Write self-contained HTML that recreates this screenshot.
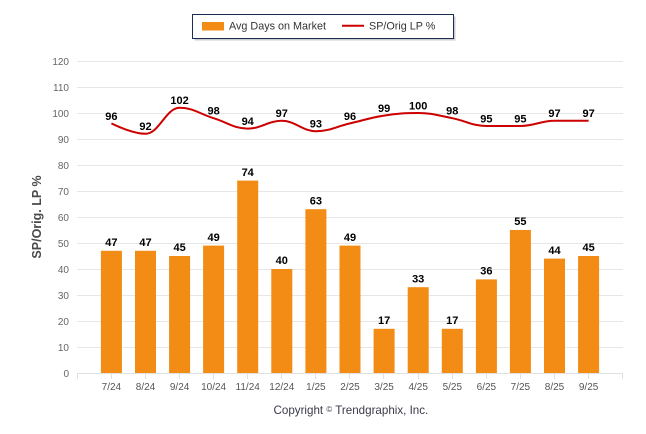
<!DOCTYPE html>
<html><head><meta charset="utf-8"><style>
html,body{margin:0;padding:0;background:#fff;}
svg{display:block;font-family:"Liberation Sans",Arial,sans-serif;}
</style></head><body>
<svg width="646" height="434" viewBox="0 0 646 434" xmlns="http://www.w3.org/2000/svg">
<rect width="646" height="434" fill="#fff"/>
<!-- legend -->
<rect x="194.5" y="16.5" width="261" height="24" fill="#999" opacity="0.5"/>
<rect x="192.5" y="14.5" width="261" height="24" fill="#fff" stroke="#1c2d52" stroke-width="1"/>
<rect x="202" y="22" width="22" height="8.5" fill="#f28c14"/>
<text x="229" y="29.5" font-size="10.8" fill="#333">Avg Days on Market</text>
<line x1="342" y1="25.8" x2="364" y2="25.8" stroke="#cc0000" stroke-width="2"/>
<text x="369" y="29.5" font-size="10.8" fill="#333">SP/Orig LP %</text>
<!-- grid -->
<g stroke="#e6e6e6" stroke-width="1">
<line x1="77" y1="61.5" x2="623" y2="61.5"/>
<line x1="77" y1="87.5" x2="623" y2="87.5"/>
<line x1="77" y1="113.5" x2="623" y2="113.5"/>
<line x1="77" y1="139.5" x2="623" y2="139.5"/>
<line x1="77" y1="165.5" x2="623" y2="165.5"/>
<line x1="77" y1="191.5" x2="623" y2="191.5"/>
<line x1="77" y1="217.5" x2="623" y2="217.5"/>
<line x1="77" y1="243.5" x2="623" y2="243.5"/>
<line x1="77" y1="269.5" x2="623" y2="269.5"/>
<line x1="77" y1="295.5" x2="623" y2="295.5"/>
<line x1="77" y1="321.5" x2="623" y2="321.5"/>
<line x1="77" y1="347.5" x2="623" y2="347.5"/>
</g>
<line x1="77" y1="373.5" x2="623" y2="373.5" stroke="#e0e0e0"/>
<g stroke="#e0e0e0">
<line x1="77.5" y1="373" x2="77.5" y2="379"/>
<line x1="111.5" y1="373" x2="111.5" y2="379"/>
<line x1="145.5" y1="373" x2="145.5" y2="379"/>
<line x1="179.5" y1="373" x2="179.5" y2="379"/>
<line x1="213.5" y1="373" x2="213.5" y2="379"/>
<line x1="247.5" y1="373" x2="247.5" y2="379"/>
<line x1="281.5" y1="373" x2="281.5" y2="379"/>
<line x1="315.5" y1="373" x2="315.5" y2="379"/>
<line x1="349.5" y1="373" x2="349.5" y2="379"/>
<line x1="383.5" y1="373" x2="383.5" y2="379"/>
<line x1="418.5" y1="373" x2="418.5" y2="379"/>
<line x1="452.5" y1="373" x2="452.5" y2="379"/>
<line x1="486.5" y1="373" x2="486.5" y2="379"/>
<line x1="520.5" y1="373" x2="520.5" y2="379"/>
<line x1="554.5" y1="373" x2="554.5" y2="379"/>
<line x1="588.5" y1="373" x2="588.5" y2="379"/>
<line x1="622.5" y1="373" x2="622.5" y2="379"/>
</g>
<!-- y labels -->
<g font-size="10" fill="#666" text-anchor="end">
<text x="69" y="65">120</text>
<text x="69" y="91">110</text>
<text x="69" y="117">100</text>
<text x="69" y="143">90</text>
<text x="69" y="169">80</text>
<text x="69" y="195">70</text>
<text x="69" y="221">60</text>
<text x="69" y="247">50</text>
<text x="69" y="273">40</text>
<text x="69" y="299">30</text>
<text x="69" y="325">20</text>
<text x="69" y="351">10</text>
<text x="69" y="377">0</text>
</g>
<text transform="translate(41,217) rotate(-90)" text-anchor="middle" font-size="12.5" font-weight="bold" fill="#4a4a4a">SP/Orig. LP %</text>
<!-- bars -->
<g fill="#f28c14">
<rect x="100.9" y="250.8" width="21" height="122.2"/>
<rect x="135.0" y="250.8" width="21" height="122.2"/>
<rect x="169.1" y="256" width="21" height="117"/>
<rect x="203.1" y="245.6" width="21" height="127.4"/>
<rect x="237.2" y="180.6" width="21" height="192.4"/>
<rect x="271.3" y="269" width="21" height="104"/>
<rect x="305.4" y="209.2" width="21" height="163.8"/>
<rect x="339.5" y="245.6" width="21" height="127.4"/>
<rect x="373.6" y="328.8" width="21" height="44.2"/>
<rect x="407.7" y="287.2" width="21" height="85.8"/>
<rect x="441.8" y="328.8" width="21" height="44.2"/>
<rect x="475.9" y="279.4" width="21" height="93.6"/>
<rect x="509.9" y="230" width="21" height="143"/>
<rect x="544.0" y="258.6" width="21" height="114.4"/>
<rect x="578.1" y="256" width="21" height="117"/>
</g>
<!-- bar labels -->
<g font-size="11" font-weight="bold" fill="#000" text-anchor="middle">
<text x="111.4" y="246">47</text>
<text x="145.5" y="246">47</text>
<text x="179.6" y="251.2">45</text>
<text x="213.6" y="240.8">49</text>
<text x="247.7" y="175.8">74</text>
<text x="281.8" y="264.2">40</text>
<text x="315.9" y="204.4">63</text>
<text x="350.0" y="240.8">49</text>
<text x="384.1" y="324">17</text>
<text x="418.2" y="282.4">33</text>
<text x="452.3" y="324">17</text>
<text x="486.4" y="274.6">36</text>
<text x="520.4" y="225.2">55</text>
<text x="554.5" y="253.8">44</text>
<text x="588.6" y="251.2">45</text>
</g>
<!-- line -->
<path d="M111.39 123.4 C111.39 123.4 131.85 133.8 145.48 133.8 C159.11 133.8 165.93 107.8 179.56 107.8 C193.2 107.8 200.01 114.04 213.65 118.2 C227.28 122.36 234.1 128.6 247.74 128.6 C261.37 128.6 268.19 120.8 281.83 120.8 C295.46 120.8 302.28 131.2 315.91 131.2 C329.55 131.2 336.37 126.52 350.0 123.4 C363.64 120.28 370.45 117.68 384.09 115.6 C397.73 113.52 404.54 113 418.18 113 C431.81 113 438.63 115.6 452.26 118.2 C465.9 120.8 472.71 126 486.35 126 C499.98 126 506.8 126 520.44 126 C534.07 126 540.89 120.8 554.53 120.8 C568.16 120.8 588.61 120.8 588.61 120.8" fill="none" stroke="#cc0000" stroke-width="2"/>
<g font-size="11" font-weight="bold" fill="#000" text-anchor="middle">
<text x="111.4" y="119.8">96</text>
<text x="145.5" y="130.2">92</text>
<text x="179.6" y="104.2">102</text>
<text x="213.6" y="114.6">98</text>
<text x="247.7" y="125">94</text>
<text x="281.8" y="117.2">97</text>
<text x="315.9" y="127.6">93</text>
<text x="350.0" y="119.8">96</text>
<text x="384.1" y="112">99</text>
<text x="418.2" y="109.4">100</text>
<text x="452.3" y="114.6">98</text>
<text x="486.4" y="122.4">95</text>
<text x="520.4" y="122.4">95</text>
<text x="554.5" y="117.2">97</text>
<text x="588.6" y="117.2">97</text>
</g>
<!-- x labels -->
<g font-size="10" fill="#555" text-anchor="middle">
<text x="111.4" y="390">7/24</text>
<text x="145.5" y="390">8/24</text>
<text x="179.6" y="390">9/24</text>
<text x="213.6" y="390">10/24</text>
<text x="247.7" y="390">11/24</text>
<text x="281.8" y="390">12/24</text>
<text x="315.9" y="390">1/25</text>
<text x="350.0" y="390">2/25</text>
<text x="384.1" y="390">3/25</text>
<text x="418.2" y="390">4/25</text>
<text x="452.3" y="390">5/25</text>
<text x="486.4" y="390">6/25</text>
<text x="520.4" y="390">7/25</text>
<text x="554.5" y="390">8/25</text>
<text x="588.6" y="390">9/25</text>
</g>
<text x="273.5" y="414" font-size="11.6" fill="#3a3a4a">Copyright <tspan font-size="8" dy="-2">©</tspan><tspan dy="2"> Trendgraphix, Inc.</tspan></text>
</svg>
</body></html>
